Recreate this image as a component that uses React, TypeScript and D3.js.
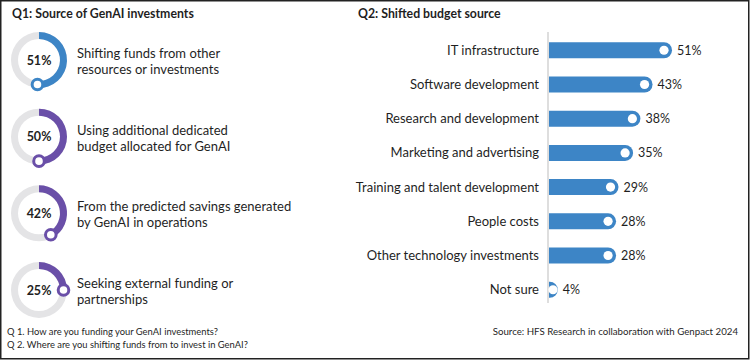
import React from "react";
import * as d3 from "d3";

const donutLabels = [
  ["Shifting funds from other", "resources or investments"],
  ["Using additional dedicated", "budget allocated for GenAI"],
  ["From the predicted savings generated", "by GenAI in operations"],
  ["Seeking external funding or", "partnerships"],
];
const donutValues = [51, 50, 42, 25];
const donutColors = ["#3d85c6", "#6a4fa8", "#6a4fa8", "#6a4fa8"];

const barCategories = [
  "IT infrastructure",
  "Software development",
  "Research and development",
  "Marketing and advertising",
  "Training and talent development",
  "People costs",
  "Other technology investments",
  "Not sure",
];
const barValues = [51, 43, 38, 35, 29, 28, 28, 4];

const FONT = "Lato, 'Open Sans', sans-serif";
const TEXT = "#1f1f1f";
const BLUE = "#3d85c6";

export default function App() {
  const W = 750, H = 360;
  const yDonut = d3.scaleLinear().domain([0, 3]).range([60, 290]);
  const rOuter = 28, rInner = 21, rMid = (rOuter + rInner) / 2;
  const arcTrack = d3.arc().innerRadius(rInner).outerRadius(rOuter).startAngle(0).endAngle(2 * Math.PI);
  const arcVal = d3.arc().innerRadius(rInner).outerRadius(rOuter).startAngle(0);

  const x = d3.scaleLinear().domain([0, 51]).range([548, 672]);
  const y = d3.scaleBand().domain(barCategories).range([33, 307]).paddingInner(0.53).paddingOuter(0.27);
  const bh = 16;

  const barPath = (x0: number, x1: number, yc: number) => {
    const w = x1 - x0;
    const r = Math.min(bh / 2, w);
    const top = yc - bh / 2, bot = yc + bh / 2;
    return `M${x0},${top}L${x1 - r},${top}A${r},${bh / 2} 0 0 1 ${x1 - r},${bot}L${x0},${bot}Z`;
  };

  return (
    <svg width={W} height={H} style={{ position: "absolute", left: 0, top: 0, background: "#fff" }} fontFamily={FONT}>
      <rect x={0.75} y={0.75} width={W - 2} height={H - 2} fill="#fff" stroke="#222" strokeWidth={1.5} />
      <text x={12} y={18} fontSize={12.3} fontWeight={700} fill={TEXT}>Q1: Source of GenAI investments</text>
      <text x={358} y={18} fontSize={12.3} fontWeight={700} fill={TEXT}>Q2: Shifted budget source</text>

      {donutValues.map((v, i) => {
        const cx = 39, cy = yDonut(i);
        const a = (v / 100) * 2 * Math.PI;
        const kx = cx + rMid * Math.sin(a), ky = cy - rMid * Math.cos(a);
        return (
          <g key={i}>
            <path d={arcTrack({} as any) as string} transform={`translate(${cx},${cy})`} fill="#e4e4e6" />
            <path d={arcVal({ endAngle: a } as any) as string} transform={`translate(${cx},${cy})`} fill={donutColors[i]} />
            <circle cx={kx} cy={ky} r={5.3} fill="#fff" stroke={donutColors[i]} strokeWidth={3} />
            <text x={cx} y={cy + 4.5} textAnchor="middle" fontSize={12.5} fontWeight={700} fill={TEXT}>{v}%</text>
            {donutLabels[i].map((t, j) => (
              <text key={j} x={77} y={cy - 2 + j * 16} fontSize={13} fill={TEXT}>{t}</text>
            ))}
          </g>
        );
      })}

      <line x1={548} x2={548} y1={32} y2={303} stroke="#c8c8c8" strokeWidth={1.2} />
      {barCategories.map((c, i) => {
        const yc = (y(c) as number) + y.bandwidth() / 2;
        const x1 = x(barValues[i]);
        return (
          <g key={c}>
            <path d={barPath(x(0) + 1, x1, yc)} fill={BLUE} />
            <circle cx={Math.max(x1 - 8, x(0) + 5)} cy={yc} r={4.6} fill="#fff" />
            <text x={539} y={yc + 4.5} textAnchor="end" fontSize={13} fill={TEXT}>{c}</text>
            <text x={x1 + 5} y={yc + 4.5} fontSize={12.5} fill={TEXT}>{barValues[i]}%</text>
          </g>
        );
      })}

      <text x={7} y={335} fontSize={9.4} fill={TEXT}>Q 1. How are you funding your GenAI investments?</text>
      <text x={7} y={348} fontSize={9.4} fill={TEXT}>Q 2. Where are you shifting funds from to invest in GenAI?</text>
      <text x={738} y={335} textAnchor="end" fontSize={9.7} fill={TEXT}>Source: HFS Research in collaboration with Genpact 2024</text>
    </svg>
  );
}
